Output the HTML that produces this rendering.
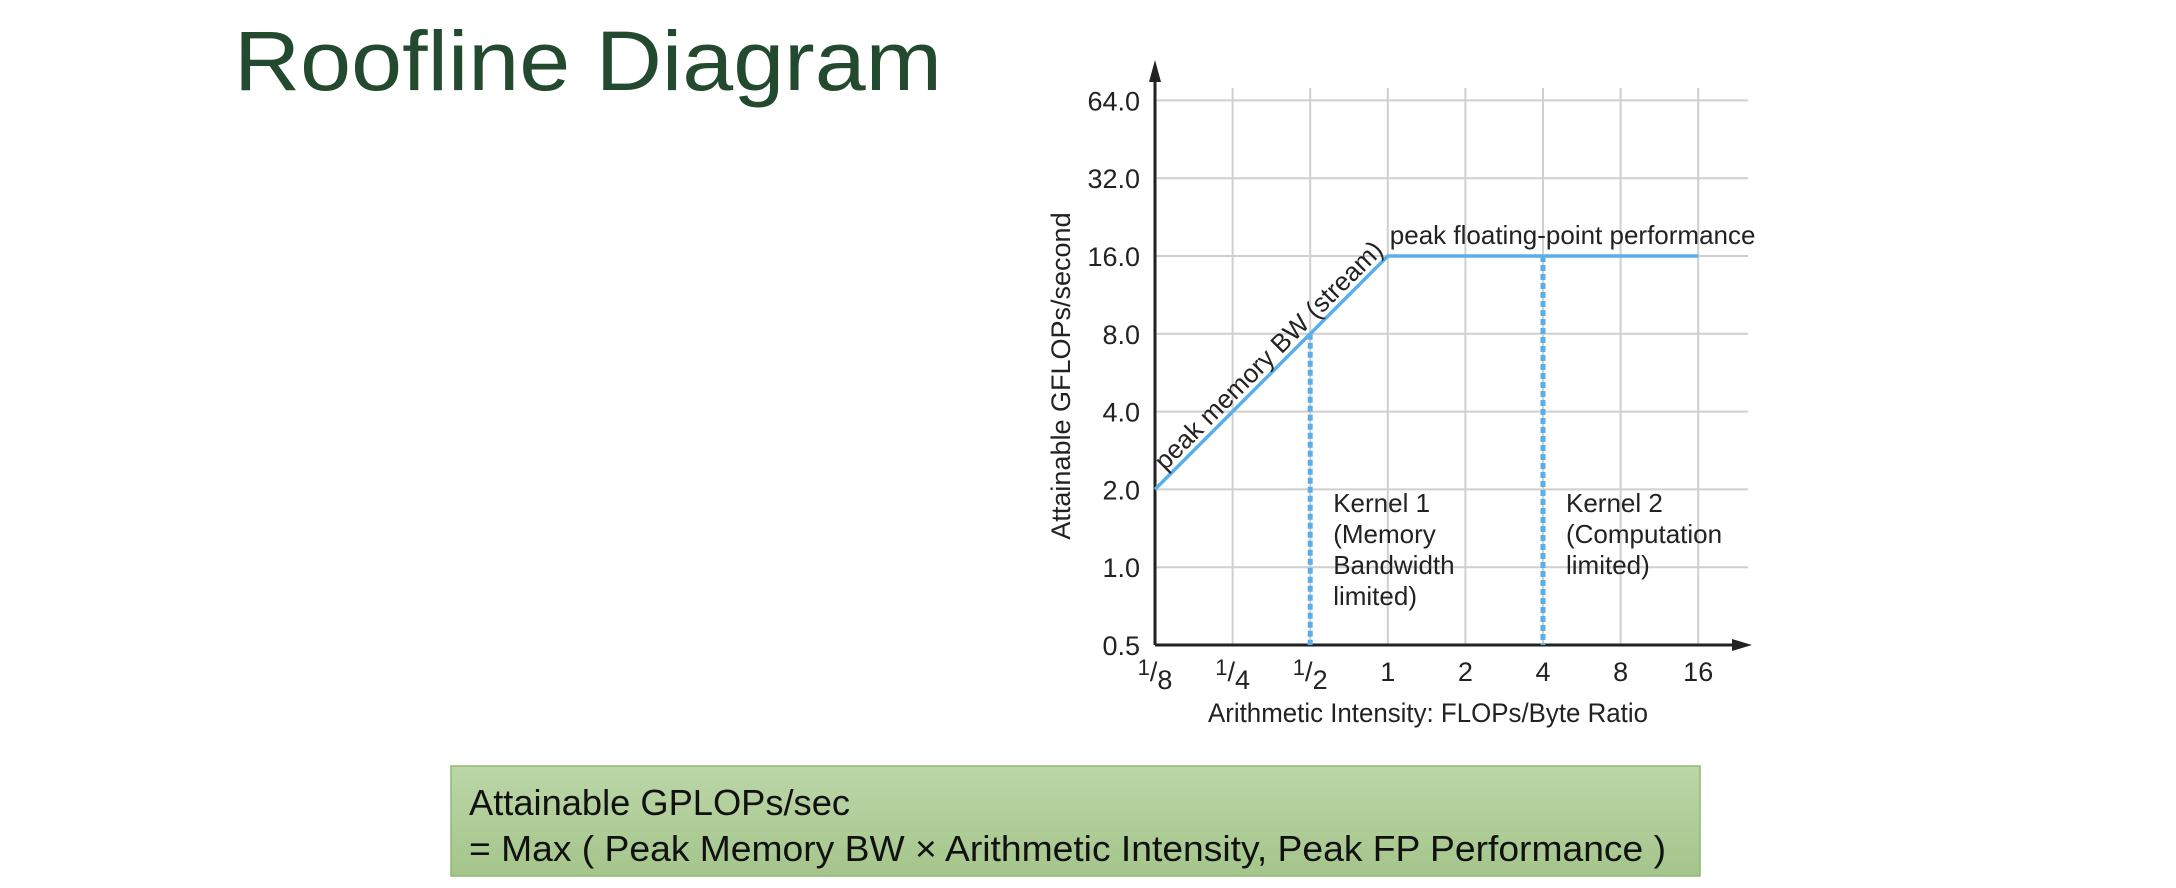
<!DOCTYPE html>
<html><head><meta charset="utf-8"><style>
html,body{margin:0;padding:0;background:#fff;}
svg{display:block;font-family:"Liberation Sans",sans-serif;}
</style></head><body>
<svg width="2176" height="888" viewBox="0 0 2176 888" xmlns="http://www.w3.org/2000/svg">
<text x="234" y="90" font-size="84" fill="#234a2e" textLength="708" lengthAdjust="spacingAndGlyphs">Roofline Diagram</text>
<defs><linearGradient id="g" x1="0" y1="0" x2="0" y2="1"><stop offset="0" stop-color="#bcd6a8"/><stop offset="1" stop-color="#a5c58b"/></linearGradient></defs>
<rect x="451" y="766" width="1249" height="110" fill="url(#g)" stroke="#8fb873" stroke-width="1.5"/>
<text x="469" y="815" font-size="36" fill="#111" textLength="381" lengthAdjust="spacingAndGlyphs">Attainable GPLOPs/sec</text>
<text x="469" y="861" font-size="36" fill="#111" textLength="1197" lengthAdjust="spacingAndGlyphs">= Max ( Peak Memory BW × Arithmetic Intensity, Peak FP Performance )</text>
<g id="chart"></g>
</svg>
<script>
const xCats=["1/8","1/4","1/2","1","2","4","8","16"];
const xVals=[0.125,0.25,0.5,1,2,4,8,16];
const yVals=[0.5,1,2,4,8,16,32,64];
const yLabels=["0.5","1.0","2.0","4.0","8.0","16.0","32.0","64.0"];
const roofX=[0.125,1,16];
const roofY=[2,16,16];
const kernelX=[0.5,4];
const kernelY=[8,16];
const kernelText=[["Kernel 1","(Memory","Bandwidth","limited)"],["Kernel 2","(Computation","limited)"]];
const NS="http://www.w3.org/2000/svg";
const g=document.getElementById('chart');
const X0=1155,DX=77.6,Y0=645,DY=77.8;
function sx(v){return X0+Math.log2(v/0.125)*DX;}
function sy(v){return Y0-Math.log2(v/0.5)*DY;}
function el(t,a,p){const e=document.createElementNS(NS,t);for(const k in a)e.setAttribute(k,a[k]);(p||g).appendChild(e);return e;}
xVals.forEach((v,i)=>{if(i===0)return;const l=el('line',{x1:sx(v),x2:sx(v),y1:88,y2:Y0,stroke:'#cfcfcf','stroke-width':2});

});
yVals.forEach((v,i)=>{if(i===0)return;const l=el('line',{x1:X0,x2:1748,y1:sy(v),y2:sy(v),stroke:'#cfcfcf','stroke-width':2});

});
const ya=el('path',{d:`M${X0} ${Y0} L${X0} 70`,stroke:'#222','stroke-width':3,fill:'none'});


el('path',{d:`M${X0-6} 82 L${X0} 60 L${X0+6} 82 Z`,fill:'#222'});
const xa=el('path',{d:`M${X0} ${Y0} L1740 ${Y0}`,stroke:'#222','stroke-width':3,fill:'none'});


el('path',{d:`M1732 ${Y0-6} L1752 ${Y0} L1732 ${Y0+6} Z`,fill:'#222'});
yVals.forEach((v,i)=>{const t=el('text',{x:1140,y:sy(v)+10,'font-size':27,'text-anchor':'end',fill:'#222'});t.textContent=yLabels[i];

});
xVals.forEach((v,i)=>{const c=xCats[i];const t=el('text',{x:sx(v),y:681,'font-size':27,'text-anchor':'middle',fill:'#222'});


if(c.includes('/')){const p=c.split('/');
const a=el('tspan',{'font-size':22,dy:-6},t);a.textContent=p[0];
const b=el('tspan',{'font-size':27,dy:6},t);b.textContent='/';
const d=el('tspan',{'font-size':27,dy:8},t);d.textContent=p[1];}
else t.textContent=c;});
const xt=el('text',{x:1428,y:722,'font-size':27,'text-anchor':'middle',fill:'#222',textLength:440,lengthAdjust:'spacingAndGlyphs'});xt.textContent='Arithmetic Intensity: FLOPs/Byte Ratio';


const yt=el('text',{x:0,y:0,'font-size':27,'text-anchor':'middle',fill:'#222',transform:'translate(1070,376) rotate(-90)'});yt.textContent='Attainable GFLOPs/second';


kernelX.forEach((v,i)=>{const l=el('line',{x1:sx(v),x2:sx(v),y1:sy(kernelY[i]),y2:Y0,stroke:'#5aaeea','stroke-width':5,'stroke-dasharray':'6 3'});


kernelText[i].forEach((s,j)=>{const t=el('text',{x:sx(v)+23,y:512+j*31,'font-size':26,fill:'#222'});t.textContent=s;

});});
const rl=el('polyline',{points:roofX.map((v,i)=>sx(v)+','+sy(roofY[i])).join(' '),fill:'none',stroke:'#5aaeea','stroke-width':3.5});


const pf=el('text',{x:sx(1)+2,y:sy(16)-12,'font-size':26,fill:'#222'});pf.textContent='peak floating-point performance';


const ang=Math.atan2(sy(roofY[0])-sy(roofY[1]),sx(roofX[1])-sx(roofX[0]))*180/Math.PI;
const bw=el('text',{x:0,y:0,'font-size':26,fill:'#222',transform:`translate(${sx(0.125)+10},${sy(2)-18}) rotate(${-ang})`});bw.textContent='peak memory BW (stream)';


</script>
</body></html>
